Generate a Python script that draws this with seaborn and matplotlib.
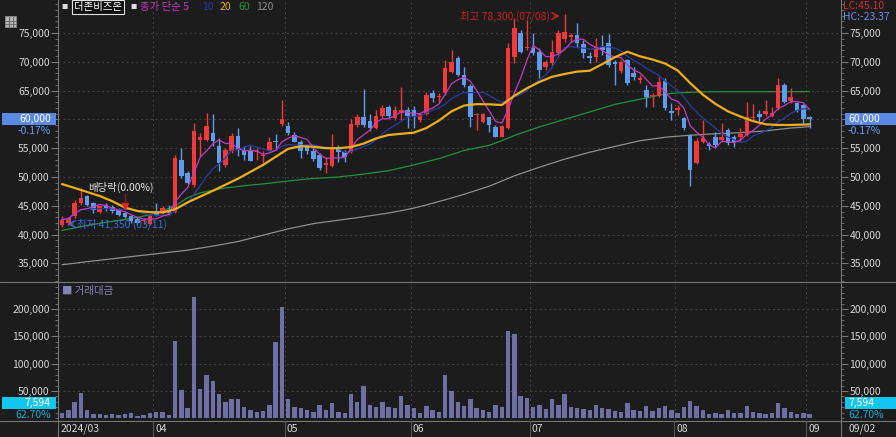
import numpy as np
import pandas as pd
import matplotlib.pyplot as plt
import seaborn as sns
from matplotlib.ticker import FuncFormatter, MultipleLocator, FixedLocator
from matplotlib.patches import Rectangle
from matplotlib.lines import Line2D

# daily candles 2024/03/11 .. 2024/09/02
opens = [41600, 42000, 43150, 45450, 46630, 45450, 43850, 45200, 44800, 44300,
         43750, 43150, 42750, 42300, 41900, 44000, 43730, 44300, 43850, 53000,
         50700, 48650, 56470, 56470, 57630, 55300, 52100, 54450, 57170, 54560,
         54740, 54270, 53580, 54620, 56180, 59190, 58790, 57340, 56010, 55200,
         54440, 53870, 52080, 51910, 55270, 54400, 54400, 59030, 60360, 59780,
         58450, 60590, 62100, 60180, 61170, 61630, 61630, 59890, 60940, 64520,
         63830, 64520, 68290, 70720, 67710, 65800, 60760, 59600, 60470, 58740,
         57000, 58450, 70890, 74940, 72340, 72340, 71760, 69040, 69850, 71470,
         73900, 74360, 74650, 73030, 71000, 70890, 72510, 73200, 70020, 68460,
         70310, 68110, 66840, 65100, 64060, 64060, 66730, 61460, 61630, 60180,
         57290, 52380, 56130, 55670, 57000, 56420, 58160, 57000, 56880, 57290,
         60180, 60940, 60940, 60580, 61920, 65970, 63250, 62790, 62500, 60400]
highs = [43300, 43100, 46050, 48100, 46900, 45700, 45200, 45450, 45100, 44600,
         44000, 43400, 43000, 42900, 43500, 45450, 44900, 45200, 53870, 55000,
         51000, 59400, 57630, 61100, 60990, 56760, 55000, 57630, 58500, 55300,
         55430, 55010, 54440, 56880, 57510, 63420, 59480, 57750, 56470, 55600,
         55010, 54200, 53530, 57460, 55560, 54700, 60010, 60940, 65280, 61000,
         61630, 62500, 62500, 62300, 65570, 62200, 62330, 61000, 64810, 65100,
         64520, 70310, 72050, 71000, 69040, 66150, 61050, 61050, 60470, 59100,
         59000, 73200, 77550, 75520, 77260, 74940, 72340, 70310, 73780, 75520,
         78300, 74940, 76680, 73780, 71760, 74070, 74650, 74820, 70310, 70310,
         70430, 69150, 67710, 65970, 64520, 67420, 67130, 62790, 62500, 60470,
         57460, 56710, 59890, 56130, 57870, 59310, 58450, 57290, 58450, 63080,
         62670, 61630, 63370, 62100, 67130, 66260, 65390, 63080, 62620, 60580]
lows = [41350, 41700, 42850, 45200, 44900, 43700, 43700, 44150, 43800, 43200,
        42800, 42000, 41800, 41900, 41600, 43150, 43500, 43450, 43730, 49800,
        48700, 48350, 53600, 56180, 55300, 50970, 51800, 54200, 53580, 53000,
        52700, 53000, 52130, 54440, 54740, 58790, 57340, 56010, 53290, 54000,
        52700, 51300, 50640, 51790, 52660, 52600, 54230, 58740, 58740, 58000,
        58280, 60180, 60180, 59900, 59890, 58450, 58450, 59600, 60760, 63080,
        62790, 64230, 68000, 67500, 65680, 58620, 58160, 59310, 57870, 56900,
        56900, 58330, 69730, 71470, 72050, 71180, 67130, 68580, 69450, 71180,
        73500, 73500, 72630, 70600, 69730, 70020, 71180, 69040, 65970, 68000,
        65970, 66840, 66260, 62210, 62210, 63950, 61630, 59890, 60760, 58160,
        48440, 52260, 55960, 54690, 55270, 56130, 55560, 55150, 56310, 57120,
        59890, 59600, 60580, 60360, 61630, 62790, 62900, 61340, 59030, 58450]
closes = [42600, 42900, 45450, 46340, 45200, 44300, 44900, 44450, 44050, 43450,
          43050, 42300, 42100, 42600, 43270, 43450, 44600, 43730, 53300, 50100,
          48950, 57900, 56950, 58800, 56180, 52400, 54700, 57050, 54620, 53870,
          52700, 54440, 53870, 56060, 56010, 60060, 57630, 56010, 54560, 54450,
          53110, 51550, 52490, 54980, 54400, 53530, 59200, 60360, 59030, 58450,
          60590, 62040, 60590, 61630, 61630, 60590, 60360, 60940, 64230, 63770,
          64060, 68870, 70020, 67710, 65970, 60470, 60940, 60940, 59030, 57000,
          58850, 72340, 75810, 71760, 72630, 71470, 68580, 70020, 71760, 74940,
          75230, 74650, 73200, 71470, 70600, 72510, 72050, 69440, 69620, 70020,
          66260, 67420, 67130, 63950, 64230, 66550, 61920, 61050, 61920, 58450,
          51210, 56310, 56710, 55380, 55550, 57000, 55850, 56130, 57460, 60470,
          60470, 60360, 61520, 61050, 65970, 63080, 63830, 61520, 60100, 60000]
# trading value (거래대금)
volumes = [10200, 15000, 30100, 46400, 15000, 7800, 7200, 6000, 7800, 6000,
           7200, 10200, 4200, 6000, 9000, 11400, 11400, 6600, 141500, 51200,
           18700, 222700, 54200, 80000, 68000, 45000, 30000, 35000, 35000, 20000,
           15000, 12000, 14000, 25000, 140000, 203000, 35000, 20000, 18000, 15000,
           12000, 25000, 15000, 28000, 12000, 10000, 45000, 30000, 60000, 25000,
           20000, 30000, 20000, 18000, 40000, 25000, 18000, 10000, 22000, 15000,
           12000, 80000, 50000, 30000, 22000, 35000, 18000, 15000, 12000, 25000,
           20000, 160000, 155000, 40000, 38000, 20000, 25000, 17000, 35000, 25000,
           45000, 20000, 18000, 17000, 15000, 25000, 18000, 17000, 14000, 12000,
           28000, 15000, 14000, 22000, 14000, 18000, 22000, 15000, 10000, 20000,
           32000, 22000, 16000, 8000, 10000, 7000, 16000, 10000, 9000, 22000,
           12000, 10000, 8000, 10000, 28000, 18000, 12000, 8000, 10000, 7594]

# moving averages, every second candle
ma_idx = list(range(0, 120, 2)) + [119]
ma20 = [48770, 48100, 47400, 46700, 45800, 44700, 44100, 43900, 43850, 44400,
        45600, 46600, 47600, 48650, 49700, 50900, 52100, 53500, 54900, 55350,
        55250, 55000, 55000, 55200, 55800, 56700, 57300, 57500, 57700, 58500,
        59800, 61400, 62400, 62650, 62620, 62500, 64100, 65400, 66500, 67400,
        67880, 68300, 68450, 69600, 70800, 71750, 70950, 70400, 69700, 68500,
        66300, 64300, 62700, 61400, 60500, 59700, 59150, 59030, 59030, 59100, 59140]
ma60 = [40720, 41150, 41600, 41950, 42300, 42650, 43000, 43450, 44100, 45000,
        46400, 47250, 47700, 48100, 48350, 48600, 48800, 49050, 49300, 49550,
        49750, 49870, 50000, 50250, 50500, 50800, 51100, 51600, 52100, 52650,
        53200, 53900, 54600, 55050, 55500, 56300, 57200, 57950, 58700, 59350,
        60000, 60650, 61300, 61950, 62600, 63050, 63500, 63950, 64400, 64600,
        64700, 64780, 64810, 64810, 64810, 64810, 64810, 64810, 64810, 64810, 64810]
ma120 = [34760, 35030, 35300, 35550, 35800, 36050, 36300, 36550, 36800, 37050,
         37300, 37650, 38000, 38400, 38800, 39350, 39900, 40450, 41000, 41450,
         41900, 42200, 42500, 42800, 43100, 43420, 43750, 44150, 44600, 45150,
         45750, 46350, 47000, 47700, 48400, 49300, 50200, 50950, 51700, 52400,
         53100, 53700, 54300, 54800, 55300, 55800, 56300, 56600, 56900, 57080,
         57250, 57380, 57500, 57600, 57700, 57850, 58000, 58250, 58500, 58650, 58740]

month_labels = ["2024/03", "04", "05", "06", "07", "08", "09"]
month_starts = [0, 15, 36, 56, 75, 98, 119]

BG = "#1c1c1c"
UP, DOWN = "#f23a3a", "#5f9cf0"
C5, C10, C20, C60, C120 = "#c23cc0", "#2a3d9e", "#eeae1e", "#22913a", "#8e8e8e"
TXT = "#d6d6d6"
GRID = "#444444"
LINE = "#777777"

sns.set_theme(style="dark", rc={"figure.facecolor": BG, "axes.facecolor": BG,
                                "savefig.facecolor": BG})
plt.rcParams['font.family'] = ['Noto Sans CJK KR', 'DejaVu Sans']

W, H = 896, 437
fig = plt.figure(figsize=(W / 100, H / 100), dpi=100)
X0, X1 = 58, 841
ax_p = fig.add_axes([X0 / W, 1 - 281 / H, (X1 - X0) / W, 281 / H])
ax_v = fig.add_axes([X0 / W, 1 - 420 / H, (X1 - X0) / W, 137 / H])

df = pd.DataFrame({"o": opens, "h": highs, "l": lows, "c": closes, "v": volumes})
df["i"] = np.arange(len(df))
df["ma5"] = df["c"].rolling(5, min_periods=1).mean()
df["ma10"] = df["c"].rolling(10, min_periods=1).mean()
up = df["c"] >= df["o"]
colors = np.where(up, UP, DOWN)

# candles
ax_p.vlines(df["i"], df["l"], df["h"], colors=colors, linewidth=1, zorder=3)
body_lo = df[["o", "c"]].min(axis=1)
body_h = (df["c"] - df["o"]).abs().clip(lower=120)
ax_p.bar(df["i"], body_h, bottom=body_lo, width=0.72, color=colors, linewidth=0, zorder=4)

# moving averages
sns.lineplot(x=ma_idx, y=ma60, ax=ax_p, color=C60, linewidth=0.9, zorder=2)
sns.lineplot(x=ma_idx, y=ma120, ax=ax_p, color=C120, linewidth=0.9, zorder=2)
sns.lineplot(x=df["i"], y=df["ma10"], ax=ax_p, color=C10, linewidth=0.9, zorder=5)
sns.lineplot(x=df["i"], y=df["ma5"], ax=ax_p, color=C5, linewidth=0.9, zorder=5)
sns.lineplot(x=ma_idx, y=ma20, ax=ax_p, color=C20, linewidth=1.6, zorder=5)

# volume
ax_v.bar(df["i"], df["v"], width=0.7, color="#6f6fa6", linewidth=0, zorder=3)

xlim = (-0.64, 124.0)
fmt = FuncFormatter(lambda v, _: f"{v:,.0f}")
for ax in (ax_p, ax_v):
    ax.set_xlim(*xlim)
    ax.set_xlabel("")
    ax.set_ylabel("")
    ax.set_xticks([])
    ax.yaxis.set_major_formatter(fmt)
    ax.tick_params(axis="y", which="both", left=True, right=True, labelleft=True,
                   labelright=True, direction="out", colors=LINE, labelcolor=TXT,
                   labelsize=7.5, pad=1)
    ax.tick_params(axis="y", which="major", length=5, width=0.8)
    ax.tick_params(axis="y", which="minor", length=2.5, width=0.6)
    for s in ("top", "bottom"):
        ax.spines[s].set_visible(False)
    for s in ("left", "right"):
        ax.spines[s].set_color(LINE)
        ax.spines[s].set_linewidth(0.8)
    ax.grid(False)
    for b in month_starts[1:]:
        ax.axvline(b - 0.5, color=GRID, linestyle=(0, (2, 3)), linewidth=0.7, zorder=1)

ax_p.set_ylim(31944, 80729)
ax_p.yaxis.set_major_locator(FixedLocator(range(35000, 80000, 5000)))
ax_p.yaxis.set_minor_locator(MultipleLocator(1000))
for t in range(35000, 80000, 5000):
    ax_p.axhline(t, color=GRID, linestyle=(0, (2, 3)), linewidth=0.7, zorder=1)

ax_v.set_ylim(-3100, 247700)
ax_v.yaxis.set_major_locator(FixedLocator([50000, 100000, 150000, 200000]))
ax_v.yaxis.set_minor_locator(MultipleLocator(10000))
for t in (50000, 100000, 150000, 200000):
    ax_v.axhline(t, color=GRID, linestyle=(0, (2, 3)), linewidth=0.7, zorder=1)

# annotations on the price panel
ax_p.annotate("", xy=(79.7, 77950), xytext=(77.9, 77950),
              arrowprops=dict(arrowstyle="->", color="#c42424", lw=1.0))
ax_p.text(77.6, 77950, "최고 78,300 (07/08)", color="#c42424", fontsize=7.5,
          ha="right", va="center")
ax_p.annotate("", xy=(0.4, 41840), xytext=(2.2, 41840),
              arrowprops=dict(arrowstyle="->", color="#3a6fd8", lw=1.0))
ax_p.text(2.4, 41840, "최저 41,350 (03/11)", color="#3a6fd8", fontsize=7.5,
          ha="left", va="center", zorder=6)
ax_p.vlines(10, 44620, 47220, color="#8a1c1c", linewidth=1, zorder=5)
ax_p.plot([10], [44900], marker="v", color="#f02020", markersize=5, zorder=6)
ax_p.text(4.1, 48270, "배당락(0.00%)", color="#e6e6e6", fontsize=7.5,
          ha="left", va="center", zorder=6)

# panel separators
def hline(y, x0=0, x1=W):
    fig.add_artist(Line2D([x0 / W, x1 / W], [1 - y / H, 1 - y / H], color=LINE, lw=0.8))

def vline(x, y0, y1, color=LINE):
    fig.add_artist(Line2D([x / W, x / W], [1 - y0 / H, 1 - y1 / H], color=color, lw=0.8))

hline(281.5)
hline(421)
vline(X0, 421, H)
vline(X1, 421, H)

# month labels on the bottom row
for lab, s in zip(month_labels, month_starts):
    xb = 62 + 6.28 * (s - 0.5)
    if s > 0:
        vline(xb, 421, H, color="#555555")
    fig.text((max(xb, 58) + 2) / W, 1 - 429 / H, lab, color=TXT, fontsize=7.5,
             ha="left", va="center")
fig.text(848 / W, 1 - 429 / H, "09/02", color=TXT, fontsize=7.5, ha="left", va="center")

# current price tags
for x0, x1, ha, tx in ((2, 56, "right", 51), (845, 896, "left", 848)):
    fig.add_artist(Rectangle((x0 / W, 1 - 125 / H), (x1 - x0) / W, 12 / H,
                             facecolor="#5a8ae6", edgecolor="none"))
    fig.text(tx / W, 1 - 119 / H, "60,000", color="white", fontsize=7.5, ha=ha, va="center")
    fig.text(tx / W, 1 - 131 / H, "-0.17%", color="#6f9cf0", fontsize=7.5, ha=ha, va="center")
    fig.add_artist(Rectangle((x0 / W, 1 - 409 / H), (x1 - x0) / W, 12 / H,
                             facecolor="#12c6f2", edgecolor="none"))
    fig.text(tx / W, 1 - 403 / H, "7,594", color="white", fontsize=7.5, ha=ha, va="center")
    fig.text(tx / W, 1 - 415 / H, "62.70%", color="#1ea8d0", fontsize=7.5, ha=ha, va="center")

fig.text(843 / W, 1 - 6 / H, "LC:45.10", color="#d23030", fontsize=7.5, ha="left", va="center")
fig.text(843 / W, 1 - 17 / H, "HC:-23.37", color="#6f8fe0", fontsize=7.5, ha="left", va="center")

# legend line at top-left
fig.text(61 / W, 1 - 7 / H, "■", color="#dddddd", fontsize=4.5, ha="left", va="center")
fig.text(98 / W, 1 - 7 / H, "더존비즈온", color="white", fontsize=7.5, ha="center", va="center",
         bbox=dict(boxstyle="square,pad=0.15", facecolor="#111111", edgecolor="#e0e0e0", lw=0.8))
fig.text(130 / W, 1 - 7 / H, "■", color="#dddddd", fontsize=4.5, ha="left", va="center")
for x, s, c in ((140, "종가 단순 5", C5), (202, "10", C10), (220, "20", C20),
                (238, "60", C60), (256, "120", C120)):
    fig.text(x / W, 1 - 7 / H, s, color=c, fontsize=7.5, ha="left", va="center")
fig.text(62 / W, 1 - 291 / H, "■ 거래대금", color="#8484b8", fontsize=7.5, ha="left", va="center")

# small grid icon top-left
fig.add_artist(Rectangle((5 / W, 1 - 27 / H), 11 / W, 11 / H, facecolor="#b8b8b8",
                         edgecolor="#888888", lw=0.6))
for k in (8.5, 12.5):
    vline(k, 17, 27, color="#666666")
for k in (20.5, 23.5):
    fig.add_artist(Line2D([5 / W, 16 / W], [1 - k / H, 1 - k / H], color="#666666", lw=0.6))

fig.savefig("out.png", dpi=100, facecolor=BG)
